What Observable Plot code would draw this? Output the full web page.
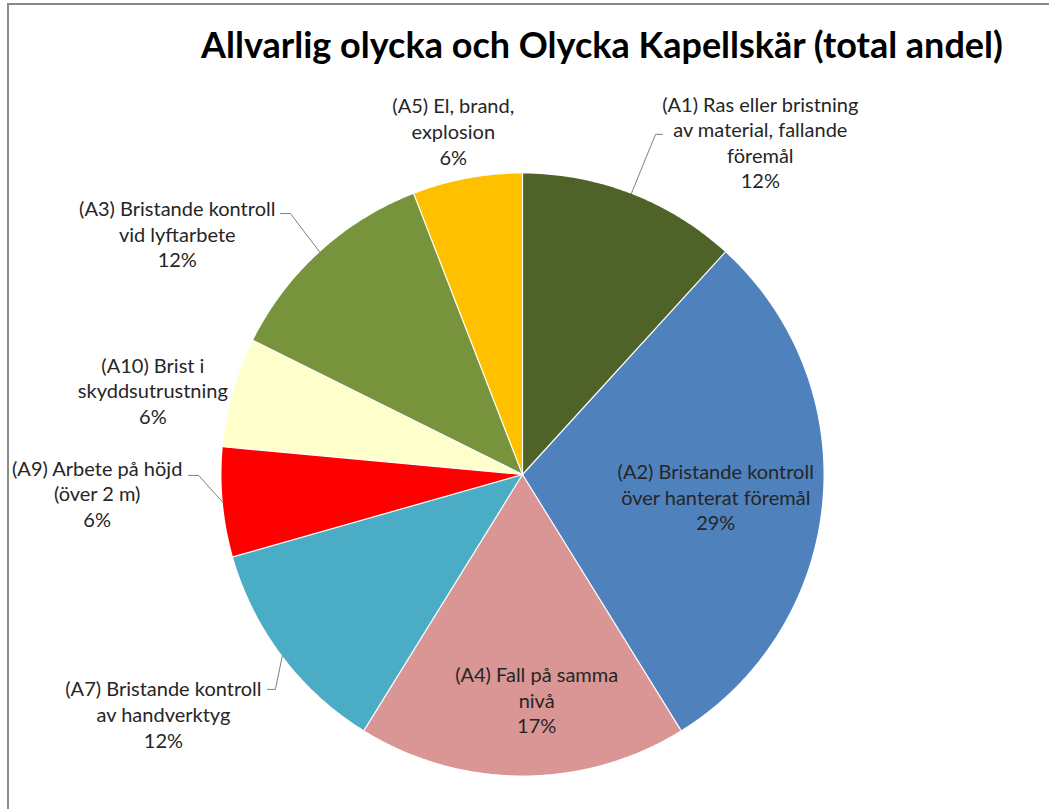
<!DOCTYPE html>
<html><head><meta charset="utf-8">
<script src="https://cdn.jsdelivr.net/npm/d3@7"></script>
<script src="https://cdn.jsdelivr.net/npm/@observablehq/plot@0.6"></script>
<style>
body{margin:0;background:#fff;}
#frame{position:relative;width:1049px;height:809px;overflow:hidden;background:#fff;}
#border{position:absolute;left:7px;top:3px;right:-10px;bottom:-10px;border-left:2px solid #8a8a8a;border-top:2px solid #8a8a8a;pointer-events:none;}
#head{position:relative;height:80px;}
#title{position:absolute;left:602px;top:26px;transform:translateX(-50%);white-space:nowrap;font-family:Lato,sans-serif;font-weight:bold;font-size:36px;line-height:1;color:#000;}
#chart svg{display:block;}
</style></head>
<body>
<div id="frame">
  <div id="head"><div id="title">Allvarlig olycka och Olycka Kapellskär (total andel)</div></div>
  <div id="chart"></div>
  <div id="border"></div>
</div>
<script>
// ---- data ----
const categories = [
  "(A1) Ras eller bristning\nav material, fallande\nföremål",
  "(A2) Bristande kontroll\növer hanterat föremål",
  "(A4) Fall på samma\nnivå",
  "(A7) Bristande kontroll\nav handverktyg",
  "(A9) Arbete på höjd\n(över 2 m)",
  "(A10) Brist i\nskyddsutrustning",
  "(A3) Bristande kontroll\nvid lyftarbete",
  "(A5) El, brand,\nexplosion"
];
const counts = [2, 5, 3, 2, 1, 1, 2, 1];
const percentLabels = ["12%", "29%", "17%", "12%", "6%", "6%", "12%", "6%"];
const sliceColors = ["#4F6228", "#4F81BD", "#D99694", "#4BACC6", "#FF0000", "#FFFFCC", "#77933C", "#FFC000"];

// ---- label layout (in pie-radius units, centre = 0,0) ----
const labelAt = [
  [0.790, 1.105], [0.642, -0.073], [0.047, -0.748], [-1.193, -0.795],
  [-1.413, -0.062], [-1.228, 0.280], [-1.147, 0.800], [-0.230, 1.142]
];
// leader lines: slice index, text-side end, elbow
const leaders = [
  [0, [0.465, 1.130], [0.442, 1.130]],
  [6, [-0.804, 0.867], [-0.771, 0.867]],
  [4, [-1.110, -0.003], [-1.076, -0.003]],
  [3, [-0.847, -0.714], [-0.821, -0.714]]
];

const arcs = d3.pie().sort(null).value(d => d)(counts);

const slicePts = [];
arcs.forEach((a, i) => {
  slicePts.push({k: i, x: 0, y: 0});
  const n = Math.max(4, Math.ceil((a.endAngle - a.startAngle) / (Math.PI / 360)));
  for (let j = 0; j <= n; j++) {
    const t = a.startAngle + (a.endAngle - a.startAngle) * j / n;
    slicePts.push({k: i, x: Math.sin(t), y: Math.cos(t)});
  }
});
const seps = arcs.map(a => ({x1: 0, y1: 0, x2: Math.sin(a.startAngle), y2: Math.cos(a.startAngle)}));

const labels = categories.map((c, i) => ({
  x: labelAt[i][0], y: labelAt[i][1],
  text: c + "\n" + percentLabels[i]
}));

const leaderPts = [];
leaders.forEach(([i, p1, p2], k) => {
  const a = arcs[i], m = (a.startAngle + a.endAngle) / 2;
  leaderPts.push({k, x: p1[0], y: p1[1]}, {k, x: p2[0], y: p2[1]}, {k, x: Math.sin(m), y: Math.cos(m)});
});

const R = 301, W = 1049, H = 729, cx = 522, cy = 394;
const chart = Plot.plot({
  width: W, height: H, margin: 0,
  x: {domain: [-cx / R, (W - cx) / R], range: [0, W], axis: null},
  y: {domain: [-(H - cy) / R, cy / R], range: [H, 0], axis: null},
  color: {type: "identity"},
  marks: [
    Plot.line(slicePts, {x: "x", y: "y", z: "k", fill: d => sliceColors[d.k], stroke: "none", curve: "linear-closed"}),
    Plot.link(seps, {x1: "x1", y1: "y1", x2: "x2", y2: "y2", stroke: "#fff", strokeWidth: 1.2}),
    Plot.line(leaderPts, {x: "x", y: "y", z: "k", stroke: "#7f7f7f", strokeWidth: 1}),
    Plot.text(labels, {x: "x", y: "y", text: "text", fontFamily: "Lato", fontSize: 20, lineHeight: 1.28, fill: "#262626", textAnchor: "middle"})
  ]
});
document.getElementById("chart").appendChild(chart);
</script>
</body></html>
